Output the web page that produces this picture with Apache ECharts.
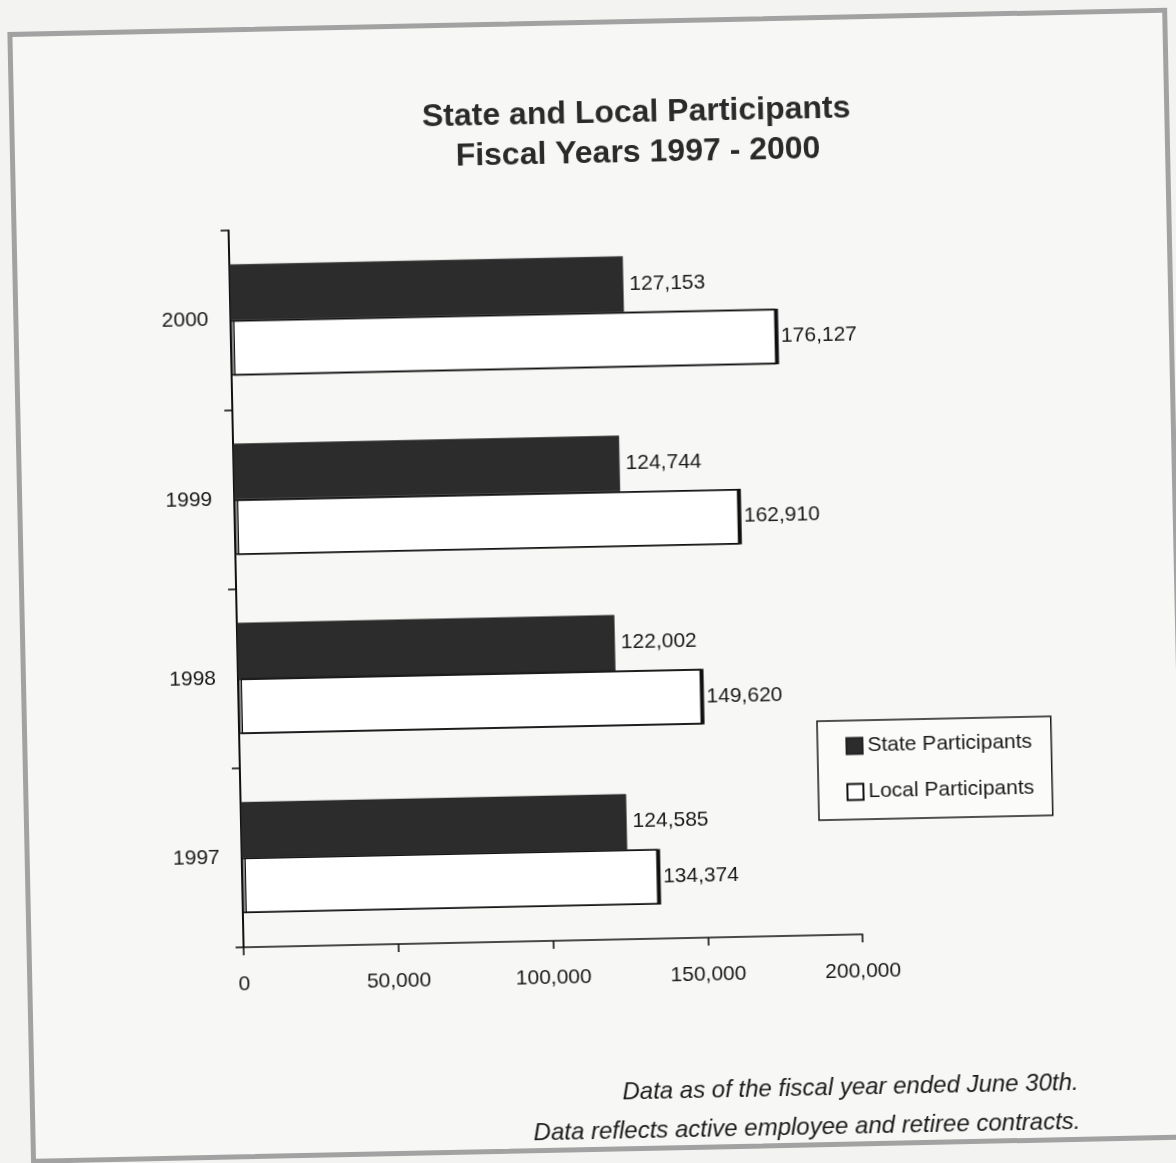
<!DOCTYPE html>
<html>
<head>
<meta charset="utf-8">
<script src="https://cdn.jsdelivr.net/npm/echarts@6/dist/echarts.min.js"></script>
<style>
  html, body { margin: 0; padding: 0; background: #f3f3f1; overflow: hidden; }
  #page {
    position: absolute; left: 0; top: 0; width: 1176px; height: 1163px;
    transform: rotate(-1.2deg); transform-origin: 588px 581.5px;
  }
  #frame {
    position: absolute; left: 19px; top: 20px; width: 1160px; height: 1132px;
    box-sizing: border-box; border: 5px solid #a2a2a2; background: #f7f7f5;
  }
  #chart { position: absolute; left: 0; top: 0; width: 1176px; height: 1163px; }
</style>
</head>
<body>
<div id="page">
  <div id="frame"></div>
  <div id="chart"></div>
</div>
<script>
// Fiscal years, bottom to top
const years = ['1997', '1998', '1999', '2000'];
// Participant counts per fiscal year
const stateParticipants = [124585, 122002, 124744, 127153];
const localParticipants = [134374, 149620, 162910, 176127];
// Value axis tick labels
const xTickLabels = ['0', '50,000', '100,000', '150,000', '200,000'];

const titleLines = ['State and Local Participants', 'Fiscal Years 1997 - 2000'];
const notes = [
  'Data as of the fiscal year ended June 30th.',
  'Data reflects active employee and retiree contracts.'
];

const FONT = '"Liberation Sans", Arial, Helvetica, sans-serif';
const fmt = v => Number(v).toLocaleString('en-US');

const chart = echarts.init(document.getElementById('chart'), null, { renderer: 'canvas' });

chart.setOption({
  backgroundColor: 'transparent',
  animation: false,
  textStyle: { fontFamily: FONT },
  grid: { left: 236, top: 223, width: 619, height: 717, containLabel: false },
  legend: {
    data: ['State Participants', 'Local Participants'],
    orient: 'vertical',
    left: 814, top: 726,
    padding: [15, 18, 17, 28],
    itemGap: 25,
    itemWidth: 16, itemHeight: 16,
    icon: 'rect',
    borderColor: '#1a1a1a', borderWidth: 1.5,
    backgroundColor: '#fbfbfa',
    textStyle: { fontFamily: FONT, fontSize: 21, color: '#1a1a1a' }
  },
  xAxis: {
    type: 'value',
    min: 0, max: 200000, interval: 50000,
    axisLine: { show: true, lineStyle: { color: '#111', width: 1.6 } },
    axisTick: { show: true, length: 8, lineStyle: { color: '#111', width: 1.6 } },
    splitLine: { show: false },
    axisLabel: {
      margin: 27, fontSize: 21, color: '#1a1a1a', fontFamily: FONT,
      formatter: v => xTickLabels[Math.round(v / 50000)]
    }
  },
  yAxis: {
    type: 'category',
    data: years,
    axisLine: { show: true, lineStyle: { color: '#111', width: 2 } },
    axisTick: { show: true, length: 8, lineStyle: { color: '#111', width: 1.6 } },
    axisLabel: { margin: 22, fontSize: 21, color: '#1a1a1a', fontFamily: FONT }
  },
  series: [
    {
      name: 'State Participants',
      type: 'bar',
      data: stateParticipants,
      barGap: '0%',
      barCategoryGap: '38%',
      itemStyle: { color: '#2c2c2c', borderColor: '#222', borderWidth: 0.5 },
      label: {
        show: true, position: 'right', distance: 6,
        fontSize: 21, color: '#1a1a1a', fontFamily: FONT,
        formatter: p => fmt(p.value)
      }
    },
    {
      name: 'Local Participants',
      type: 'bar',
      data: localParticipants,
      barGap: '0%',
      barCategoryGap: '38%',
      itemStyle: {
        color: '#ffffff', borderColor: '#111', borderWidth: 1.5,
        shadowColor: '#111', shadowOffsetX: 2.5, shadowOffsetY: 0, shadowBlur: 0
      },
      label: {
        show: true, position: 'right', distance: 5,
        fontSize: 21, color: '#1a1a1a', fontFamily: FONT,
        formatter: p => fmt(p.value)
      }
    }
  ],
  graphic: [
    {
      type: 'text', x: 646, y: 114,
      style: { text: titleLines[0], font: 'bold 32px ' + FONT, fill: '#2a2a2a',
               textAlign: 'center', textVerticalAlign: 'middle' }
    },
    {
      type: 'text', x: 647, y: 154,
      style: { text: titleLines[1], font: 'bold 32px ' + FONT, fill: '#2a2a2a',
               textAlign: 'center', textVerticalAlign: 'middle' }
    },
    {
      type: 'text', x: 1068, y: 1093,
      style: { text: notes[0], font: 'italic 24px ' + FONT, fill: '#1a1a1a',
               textAlign: 'right', textVerticalAlign: 'middle' }
    },
    {
      type: 'text', x: 1069, y: 1132,
      style: { text: notes[1], font: 'italic 24px ' + FONT, fill: '#1a1a1a',
               textAlign: 'right', textVerticalAlign: 'middle' }
    }
  ]
});
</script>
</body>
</html>
